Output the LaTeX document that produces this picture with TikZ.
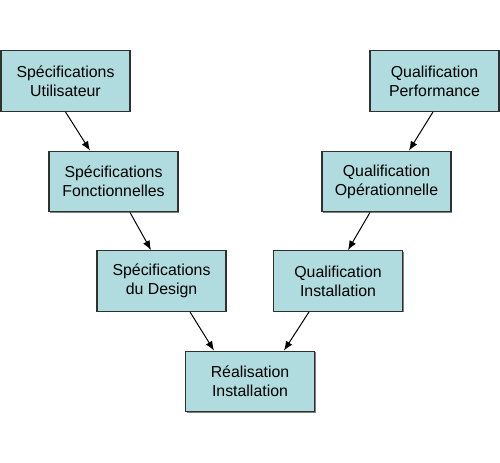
\documentclass[tikz,border=0pt]{standalone}
\usepackage{fontspec}
\setmainfont{Liberation Sans}
\usetikzlibrary{calc,shadows,arrows.meta}

\definecolor{boxfill}{HTML}{B0DCDF}
\definecolor{boxline}{HTML}{303030}

\tikzset{
  etape/.style={draw=boxline, fill=boxfill, line width=0.9pt, align=center,
    minimum width=96.75pt, minimum height=45.5pt, inner sep=0pt,
    font=\fontsize{11.9}{14.25}\selectfont,
    drop shadow={shadow xshift=0.8pt, shadow yshift=-0.8pt, opacity=0.5, fill=black}},
  fleche/.style={-{Latex[length=7pt,width=5.5pt]}, line width=0.75pt}
}

\begin{document}
\begin{tikzpicture}[x=0.75pt, y=-0.75pt]
    \useasboundingbox (0,0) rectangle (500,462);
    % branche descendante
    \node[etape] (specU) at (65.5,81) {Spécifications\\Utilisateur};
    \node[etape] (specF) at (113.5,181.5) {Spécifications\\Fonctionnelles};
    \node[etape] (specD) at (161.5,281) {Spécifications\\du Design};
    % pointe du V
    \node[etape] (real) at (250,381.5) {Réalisation\\Installation};
    % branche montante
    \node[etape] (qualI) at (338,281) {Qualification\\Installation};
    \node[etape] (qualO) at (386.5,181.5) {Qualification\\Opérationnelle};
    \node[etape] (qualP) at (434.5,81) {Qualification\\Performance};

    \draw[fleche] (specU.south) -- ($(specF.north)+(-23.5,0)$);
    \draw[fleche] ($(specF.south)+(16.5,0)$) -- ($(specD.north)+(-10.5,0)$);
    \draw[fleche] ($(specD.south)+(28.5,0)$) -- ($(real.north)+(-36,0)$);
    \draw[fleche] ($(qualI.south)+(-29,0)$) -- ($(real.north)+(34,0)$);
    \draw[fleche] ($(qualO.south)+(-16.5,0)$) -- ($(qualI.north)+(10,0)$);
    \draw[fleche] ($(qualP.south)+(-1.5,0)$) -- ($(qualO.north)+(22.5,0)$);
\end{tikzpicture}
\end{document}
